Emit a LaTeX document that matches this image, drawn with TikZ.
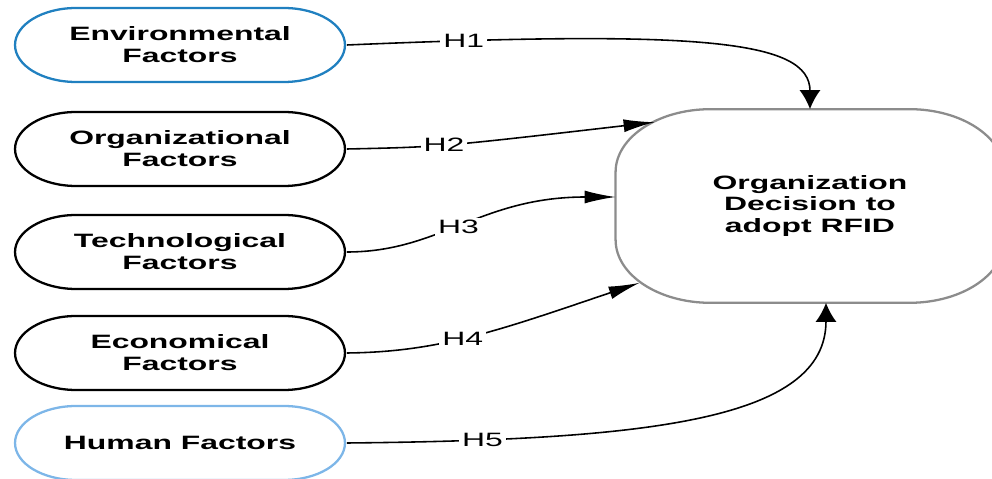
\documentclass[tikz,border=0pt]{standalone}
\usepackage{fontspec}
\setmainfont{Liberation Sans}
\usetikzlibrary{arrows.meta,calc,shapes.misc}

\definecolor{envblue}{RGB}{32,128,192}
\definecolor{humblue}{RGB}{125,182,232}
\definecolor{decgray}{RGB}{140,140,140}

\tikzset{
    factor/.style={rounded rectangle, draw, line width=1.3pt,
        minimum width=4.0cm, minimum height=1.48cm, inner sep=0pt,
        xscale=1.65, align=center,
        font=\fontsize{11}{12.5}\selectfont\bfseries},
    hyp/.style={fill=white, inner sep=1pt, xscale=1.65,
        font=\fontsize{11}{12}\selectfont},
    link/.style={line width=0.9pt, -{Latex[length=0.62cm,width=0.26cm]}},
    uplink/.style={line width=0.9pt, -{Latex[length=0.38cm,width=0.42cm]}},
    corner/.style={x radius=1.9cm, y radius=1.26cm},
}

\begin{document}
\begin{tikzpicture}[x=0.02cm,y=-0.02cm]
        \useasboundingbox (0,0) rectangle (992,479);
        % factors on the left
        \node [factor, draw=envblue] (env) at (180,45) {Environmental\\Factors};
        \node [factor] (org) at (180,149) {Organizational\\Factors};
        \node [factor] (tech) at (180,252) {Technological\\Factors};
        \node [factor] (eco) at (180,353) {Economical\\Factors};
        \node [factor, draw=humblue] (hum) at (180,443) {Human Factors};
        % decision
        \node [minimum width=4.7cm, minimum height=3.86cm, xscale=1.65,
               align=center, font=\fontsize{11}{12.5}\selectfont\bfseries]
              (dec) at (810,206) {Organization\\Decision to\\adopt RFID};
        % its border, with oval corners
        \draw [decgray, line width=1.3pt]
              ($(dec.north west)+(95,0)$) -- ($(dec.north east)+(-95,0)$)
              arc [start angle=90, end angle=0, corner]
              -- ($(dec.south east)+(0,-63)$)
              arc [start angle=0, end angle=-90, corner]
              -- ($(dec.south west)+(95,0)$)
              arc [start angle=-90, end angle=-180, corner]
              -- ($(dec.north west)+(0,63)$)
              arc [start angle=180, end angle=90, corner] -- cycle;
        % hypotheses H1 - H5
        \draw [uplink] (env.east) .. controls (700,30) and (810,40) .. (dec.north)
              node [hyp, pos=0.12] {H1};
        \draw [link] (org.east) .. controls (440,147) .. ($(dec.north west)+(39,13)$)
              node [hyp, pos=0.45] {H2};
        \draw [link] (tech.east) .. controls (440,252) and (480,197) .. ($(dec.west)+(0,-9)$)
              node [hyp, pos=0.47] {H3};
        \draw [link] (eco.east) .. controls (440,352) and (500,330) .. ($(dec.south west)+(24,-20)$)
              node [hyp, pos=0.45] {H4};
        \draw [uplink] (hum.east) .. controls (650,440) and (826,420) .. ($(dec.south)+(16,0)$)
              node [hyp, pos=0.16] {H5};
\end{tikzpicture}
\end{document}
